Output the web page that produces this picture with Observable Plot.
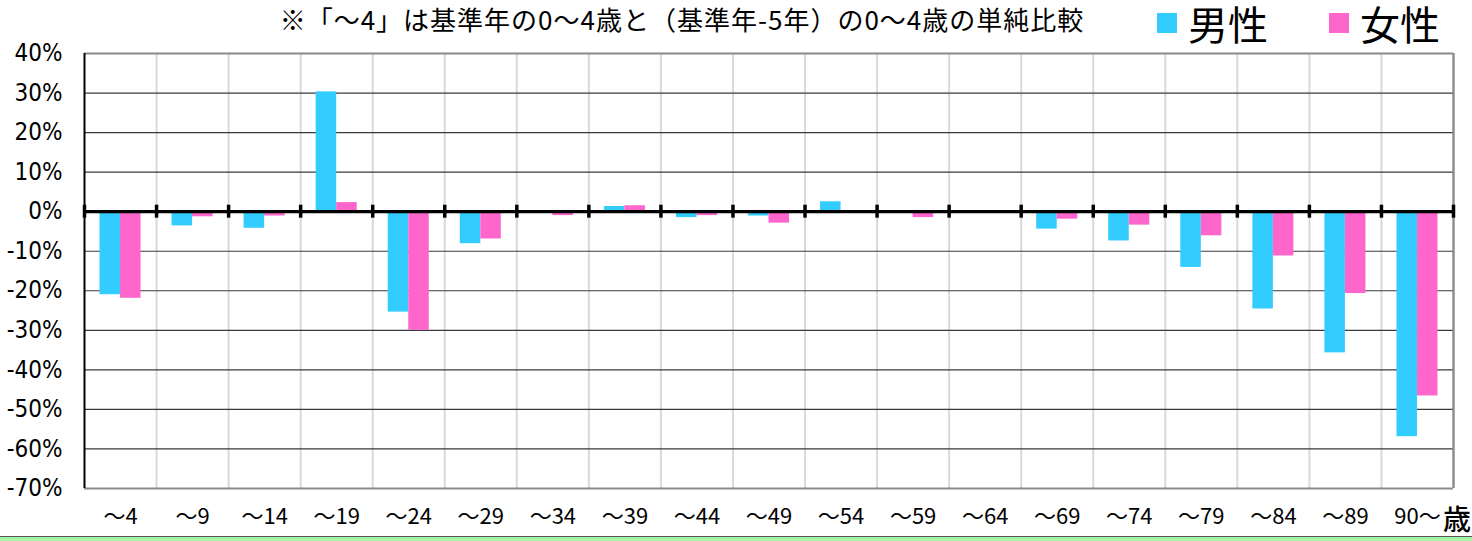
<!DOCTYPE html>
<html>
<head>
<meta charset="utf-8">
<script src="https://cdn.jsdelivr.net/npm/d3@7"></script>
<script src="https://cdn.jsdelivr.net/npm/@observablehq/plot@0.6"></script>
<style>
  html, body { margin: 0; padding: 0; background: #fff; }
  #wrap { position: relative; width: 1472px; height: 541px; overflow: hidden; font-family: "Noto Sans CJK JP", sans-serif; }
  #wrap svg { position: absolute; left: 0; top: 0; }
  .title { position: absolute; left: 0; width: 1364px; top: 3px; text-align: center; font-size: 26px; letter-spacing: 1px; line-height: 32px; color: #000; white-space: nowrap; }
  .leg { position: absolute; top: 2px; height: 42px; display: flex; align-items: center; font-size: 40px; line-height: 42px; color: #000; }
  .sw { display: inline-block; width: 20px; height: 20px; margin-right: 11px; }
  .unit { position: absolute; left: 1443px; top: 502px; font-size: 28px; line-height: 32px; font-weight: 500; color: #000; }
  .band { position: absolute; left: 0; top: 536px; width: 1472px; height: 5px; background: #a4f6a4; border-top: 1px solid #555; box-sizing: border-box; }
</style>
</head>
<body>
<div id="wrap"></div>
<script>
const ages = ["～4","～9","～14","～19","～24","～29","～34","～39","～44","～49","～54","～59","～64","～69","～74","～79","～84","～89","90～"];
const male = [-21.0,-3.6,-4.2,30.3,-25.4,-8.1,-0.2,1.3,-1.5,-1.1,2.5,-0.2,0.0,-4.4,-7.4,-14.1,-24.6,-35.7,-56.9];
const female = [-21.9,-1.3,-1.1,2.3,-30.0,-6.9,-1.0,1.5,-1.0,-2.9,0.0,-1.5,0.0,-1.9,-3.4,-6.1,-11.2,-20.7,-46.6];
const yTicks = [40,30,20,10,0,-10,-20,-30,-40,-50,-60,-70];
const seriesNames = ["男性","女性"];
const colors = ["#33CCFF","#FF66CC"];
const titleText = "※「～4」は基準年の0～4歳と（基準年-5年）の0～4歳の単純比較";
const unitText = "歳";

const idx = ages.map((_, i) => i);
const boundaries = d3.range(ages.length + 1);
const innerBounds = boundaries.slice(1, -1);
const gridY = yTicks.filter(v => v !== 0 && v !== d3.max(yTicks) && v !== d3.min(yTicks));
const yMin = d3.min(yTicks), yMax = d3.max(yTicks);

const rows = idx.map(i => ({i, age: ages[i], male: male[i], female: female[i]}));

const chart = Plot.plot({
  width: 1472,
  height: 541,
  marginLeft: 84,
  marginRight: 19,
  marginTop: 53,
  marginBottom: 53,
  x: {type: "linear", domain: [0, ages.length], axis: null},
  y: {type: "linear", domain: [yMin, yMax], axis: null},
  style: {background: "transparent", overflow: "visible"},
  marks: [
    Plot.ruleX(innerBounds, {x: d => d, y1: yMin, y2: yMax, stroke: "#d9d9d9", strokeWidth: 2}),
    Plot.ruleY(gridY, {y: d => d, x1: 0, x2: ages.length, stroke: "#3a3a3a", strokeWidth: 1.2}),
    Plot.rectY(rows, {x1: d => d.i, x2: d => d.i + 0.5, y1: 0, y2: d => d.male, fill: colors[0], insetLeft: 15.5, insetRight: 0}),
    Plot.rectY(rows, {x1: d => d.i + 0.5, x2: d => d.i + 1, y1: 0, y2: d => d.female, fill: colors[1], insetLeft: 0, insetRight: 15.5}),
    Plot.ruleY([yMax, yMin], {y: d => d, x1: 0, x2: ages.length, stroke: "#8a8a8a", strokeWidth: 2.2}),
    Plot.ruleX([ages.length], {x: d => d, y1: yMin, y2: yMax, stroke: "#8a8a8a", strokeWidth: 2.4}),
    Plot.ruleX([0], {x: d => d, y1: yMin, y2: yMax, stroke: "#000", strokeWidth: 2}),
    Plot.ruleY([0], {y: d => d, x1: 0, x2: ages.length, stroke: "#000", strokeWidth: 3.2}),
    Plot.ruleX(boundaries, {x: d => d, y1: 0, y2: 0, insetTop: -6.5, insetBottom: -6.5, stroke: "#000", strokeWidth: 3.5}),
    Plot.axisY(yTicks, {tickFormat: d => `${d}%`, tickSize: 0, tickPadding: 22, fontSize: 24, fontFamily: "'Liberation Sans Narrow', 'DejaVu Sans Condensed', sans-serif", fill: "#000"}),
    Plot.axisX(idx.map(i => i + 0.5), {tickFormat: (d, k) => ages[k], tickSize: 0, tickPadding: 20, fontSize: 22, fontFamily: "'Liberation Sans Narrow', 'Noto Sans CJK JP', sans-serif", fill: "#000"})
  ]
});

const wrap = document.getElementById("wrap");
wrap.appendChild(chart);

const t = document.createElement("div");
t.className = "title";
t.textContent = titleText;
wrap.appendChild(t);

const legLeft = [1157, 1329];
seriesNames.forEach((name, k) => {
  const l = document.createElement("div");
  l.className = "leg";
  l.style.left = legLeft[k] + "px";
  const sw = document.createElement("span");
  sw.className = "sw";
  sw.style.background = colors[k];
  l.appendChild(sw);
  l.appendChild(document.createTextNode(name));
  wrap.appendChild(l);
});

const u = document.createElement("div");
u.className = "unit";
u.textContent = unitText;
wrap.appendChild(u);

const b = document.createElement("div");
b.className = "band";
wrap.appendChild(b);
</script>
</body>
</html>
